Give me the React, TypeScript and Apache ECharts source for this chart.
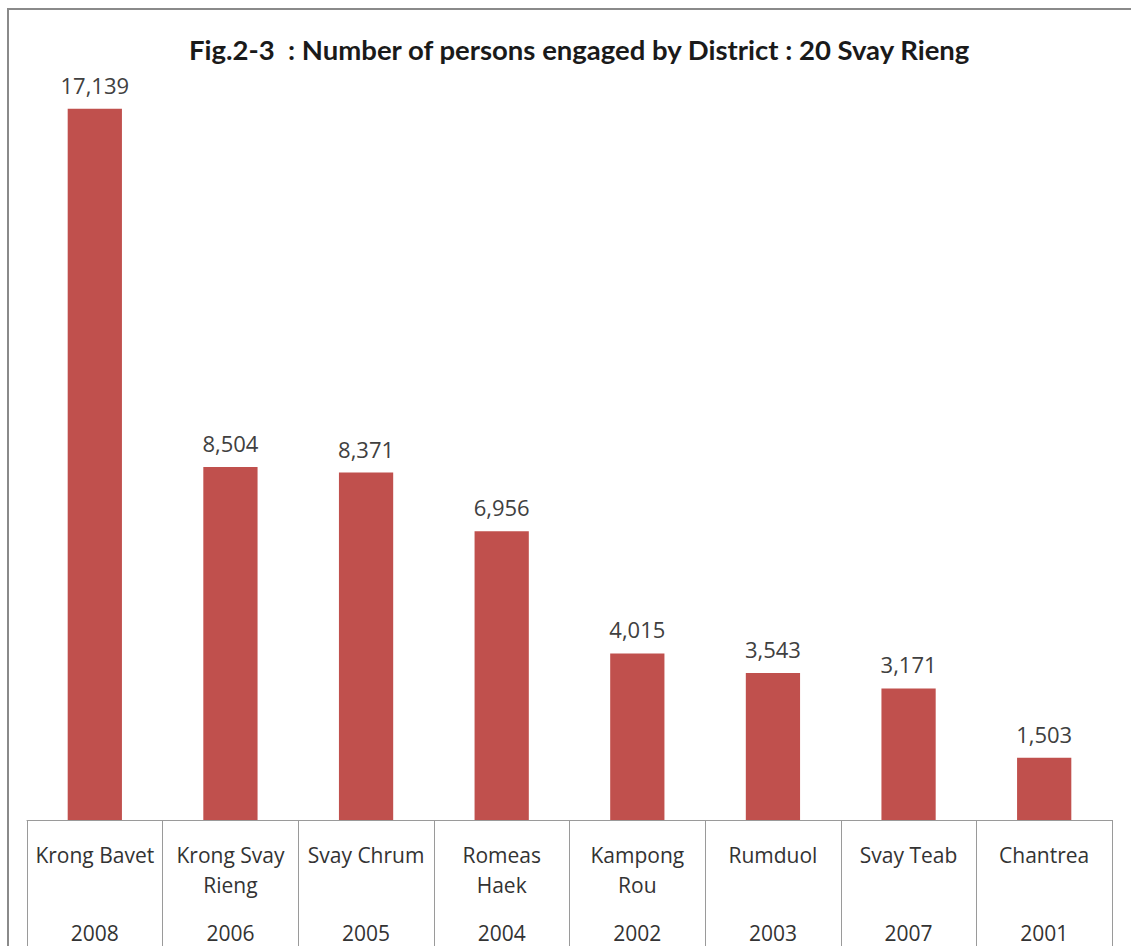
import React, { useEffect, useRef } from "react";
import * as echarts from "echarts";

const districts = ["Krong Bavet", "Krong Svay\nRieng", "Svay Chrum", "Romeas\nHaek", "Kampong\nRou", "Rumduol", "Svay Teab", "Chantrea"];
const codes = ["2008", "2006", "2005", "2004", "2002", "2003", "2007", "2001"];
const persons = [17139, 8504, 8371, 6956, 4015, 3543, 3171, 1503];
const titleText = "Fig.2-3  : Number of persons engaged by District : 20 Svay Rieng";

export default function App() {
  const ref = useRef<HTMLDivElement>(null);
  useEffect(() => {
    if (!ref.current) return;
    const chart = echarts.init(ref.current, null, { renderer: "svg" });
    chart.setOption({
      animation: false,
      backgroundColor: "#ffffff",
      title: {
        text: titleText,
        left: 184,
        top: 30,
        textStyle: { fontFamily: "Lato", fontWeight: "bold", fontSize: 27.5, color: "#1a1a1a" },
      },
      graphic: [
        {
          type: "rect",
          shape: { x: 8, y: 9, width: 1300, height: 1100 },
          style: { fill: "none", stroke: "#8a8a8a", lineWidth: 2 },
          silent: true,
        },
      ],
      grid: { left: 27, right: 19, top: 73, bottom: 126 },
      xAxis: {
        type: "category",
        data: districts,
        axisLine: { show: true, lineStyle: { color: "#9a9a9a", width: 1 } },
        axisTick: { show: true, length: 140, lineStyle: { color: "#9a9a9a", width: 1 } },
        axisLabel: {
          margin: 20,
          interval: 0,
          formatter: (v: string, idx: number) => {
            const parts = v.split("\n");
            const l1 = `{n|${parts[0]}}`;
            const l2 = parts[1] ? `{n|${parts[1]}}` : `{n| }`;
            return `${l1}\n${l2}\n{c|${codes[idx]}}`;
          },
          rich: {
            n: { fontFamily: "Open Sans", fontSize: 21, color: "#333333", lineHeight: 30, align: "center" },
            c: { fontFamily: "Open Sans", fontSize: 21, color: "#333333", lineHeight: 65, align: "center" },
          },
        },
      },
      yAxis: {
        type: "value",
        min: 0,
        max: 18000,
        show: false,
        splitLine: { show: false },
      },
      series: [
        {
          type: "bar",
          data: persons,
          barWidth: "40%",
          itemStyle: { color: "#C0504D" },
          label: {
            show: true,
            position: "top",
            distance: 13,
            fontFamily: "Open Sans",
            fontSize: 22,
            color: "#404040",
            formatter: (p: any) => Number(p.value).toLocaleString("en-US"),
          },
        },
      ],
    });
    return () => chart.dispose();
  }, []);
  return (
    <div
      ref={ref}
      style={{ position: "absolute", left: 0, top: 0, width: 1131, height: 946 }}
    />
  );
}
